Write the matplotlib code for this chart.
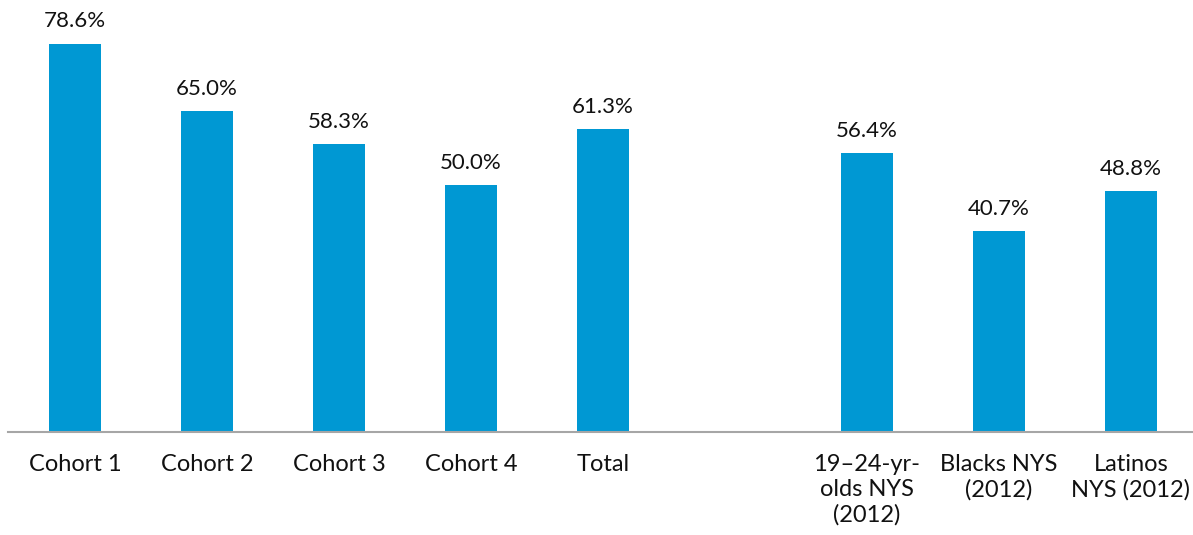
import matplotlib
matplotlib.use("Agg")
import matplotlib.pyplot as plt

categories = ["Cohort 1", "Cohort 2", "Cohort 3", "Cohort 4", "Total",
              "19\u201324-yr-\nolds NYS\n(2012)", "Blacks NYS\n(2012)", "Latinos\nNYS (2012)"]
values = [78.6, 65.0, 58.3, 50.0, 61.3, 56.4, 40.7, 48.8]
positions = [0, 1, 2, 3, 4, 6, 7, 8]

plt.rcParams['font.family'] = ['Lato', 'DejaVu Sans']

fig = plt.figure(figsize=(11.93, 5.35), dpi=100)
ax = fig.add_axes([8/1193, 103/535, 1 - 8/1193, 432/535])
color = "#0098D3"
ax.bar(positions, values, width=0.4, color=color)
for x, v in zip(positions, values):
    ax.text(x, v + 2.5, f"{v:.1f}%", ha="center", va="bottom", fontsize=16, color="#111111")

ax.set_xlim(-0.508, 8.47)
ax.set_ylim(0, 87.45)
ax.set_xticks(positions)
ax.set_xticklabels(categories, fontsize=17, color="#111111", linespacing=1.22, va="top")
ax.tick_params(axis="x", length=0, pad=16)
ax.set_yticks([])
for s in ["top", "right", "left"]:
    ax.spines[s].set_visible(False)
ax.spines["bottom"].set_color("#A6A6A6")
ax.spines["bottom"].set_linewidth(1.5)

fig.savefig("out.png", dpi=100)
